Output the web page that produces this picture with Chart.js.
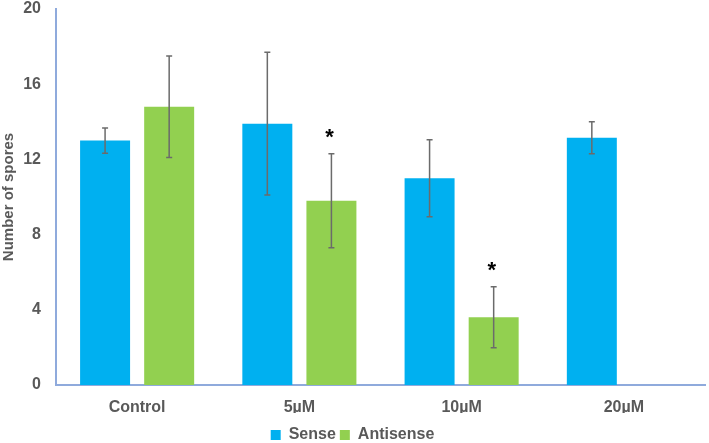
<!DOCTYPE html>
<html>
<head>
<meta charset="utf-8">
<script src="https://cdn.jsdelivr.net/npm/chart.js@4/dist/chart.umd.min.js"></script>
<style>
html,body{margin:0;padding:0;background:#fff;}
#wrap{width:709px;height:443px;}
</style>
</head>
<body>
<div id="wrap"><canvas id="c" width="709" height="443"></canvas></div>
<script>
const categories = ["Control", "5\u00b5M", "10\u00b5M", "20\u00b5M"];
const senseValues = [13.0, 13.9, 11.0, 13.15];
const senseErrors = [0.67, 3.8, 2.05, 0.85];
const antisenseValues = [14.8, 9.8, 3.6, null];
const antisenseErrors = [2.7, 2.5, 1.62, null];
const antisenseStars = [false, true, true, false];
const yTicks = [0, 4, 8, 12, 16, 20];

const FONT = '"Liberation Sans", Arial, sans-serif';

const errorBarPlugin = {
  id: 'errorBars',
  afterLayout(chart) {
    if (chart.legend) { chart.legend.top += 10; chart.legend.bottom += 10; }
  },
  afterDatasetsDraw(chart) {
    const ctx = chart.ctx;
    const yScale = chart.scales.y;
    chart.data.datasets.forEach((ds, di) => {
      const meta = chart.getDatasetMeta(di);
      meta.data.forEach((bar, i) => {
        const v = ds.data[i];
        const e = ds.errors[i];
        if (v == null || e == null) return;
        const x = bar.x;
        const yTop = yScale.getPixelForValue(v + e);
        const yBot = yScale.getPixelForValue(v - e);
        ctx.save();
        ctx.strokeStyle = '#6b6b6b';
        ctx.lineWidth = 1.5;
        ctx.beginPath();
        ctx.moveTo(x, yTop); ctx.lineTo(x, yBot);
        ctx.moveTo(x - 3, yTop); ctx.lineTo(x + 3, yTop);
        ctx.moveTo(x - 3, yBot); ctx.lineTo(x + 3, yBot);
        ctx.stroke();
        if (ds.stars && ds.stars[i]) {
          ctx.fillStyle = '#000';
          ctx.font = 'bold 22px ' + FONT;
          ctx.textAlign = 'center';
          ctx.textBaseline = 'middle';
          ctx.fillText('*', x - 2, yTop - 16);
        }
        ctx.restore();
      });
    });
  }
};

new Chart(document.getElementById('c'), {
  type: 'bar',
  data: {
    labels: categories,
    datasets: [
      { label: 'Sense', data: senseValues, errors: senseErrors, backgroundColor: '#00B0F0',
        barPercentage: 0.78, categoryPercentage: 0.79 },
      { label: 'Antisense', data: antisenseValues, errors: antisenseErrors, stars: antisenseStars,
        backgroundColor: '#92D050', barPercentage: 0.78, categoryPercentage: 0.79 }
    ]
  },
  options: {
    responsive: false,
    animation: false,
    devicePixelRatio: 1,
    layout: { padding: { top: 9, right: 4, left: 0, bottom: 0 } },
    plugins: {
      tooltip: { enabled: false },
      legend: {
        position: 'bottom',
        labels: {
          boxWidth: 10, boxHeight: 10, padding: 4,
          color: '#595959',
          font: { family: FONT, size: 16, weight: 'bold' },
          generateLabels(chart) {
            return chart.data.datasets.map((d, i) => ({
              text: d.label, fillStyle: d.backgroundColor, strokeStyle: d.backgroundColor,
              lineWidth: 0, datasetIndex: i, fontColor: '#595959'
            }));
          }
        }
      }
    },
    scales: {
      x: {
        grid: { display: false, drawTicks: false },
        border: { color: '#8FAADC', width: 2 },
        ticks: {
          color: '#595959', padding: 13,
          font: { family: FONT, size: 16, weight: 'bold' }
        },
        afterFit(s) { s.height = 28; s.paddingLeft = 0; s.paddingRight = 0; }
      },
      y: {
        min: 0, max: 20,
        afterBuildTicks(s) { s.ticks = yTicks.map(v => ({ value: v })); },
        grid: { display: false, drawTicks: false },
        border: { color: '#8FAADC', width: 2 },
        ticks: {
          color: '#595959', padding: 15,
          font: { family: FONT, size: 16, weight: 'bold' }
        },
        title: {
          display: true, text: 'Number of spores', color: '#595959',
          font: { family: FONT, size: 15, weight: 'bold' },
          padding: { top: 0, bottom: 2 }
        },
        afterFit(s) { s.width = 56; s.paddingTop = 0; s.paddingBottom = 0; }
      }
    }
  },
  plugins: [errorBarPlugin]
});
</script>
</body>
</html>
